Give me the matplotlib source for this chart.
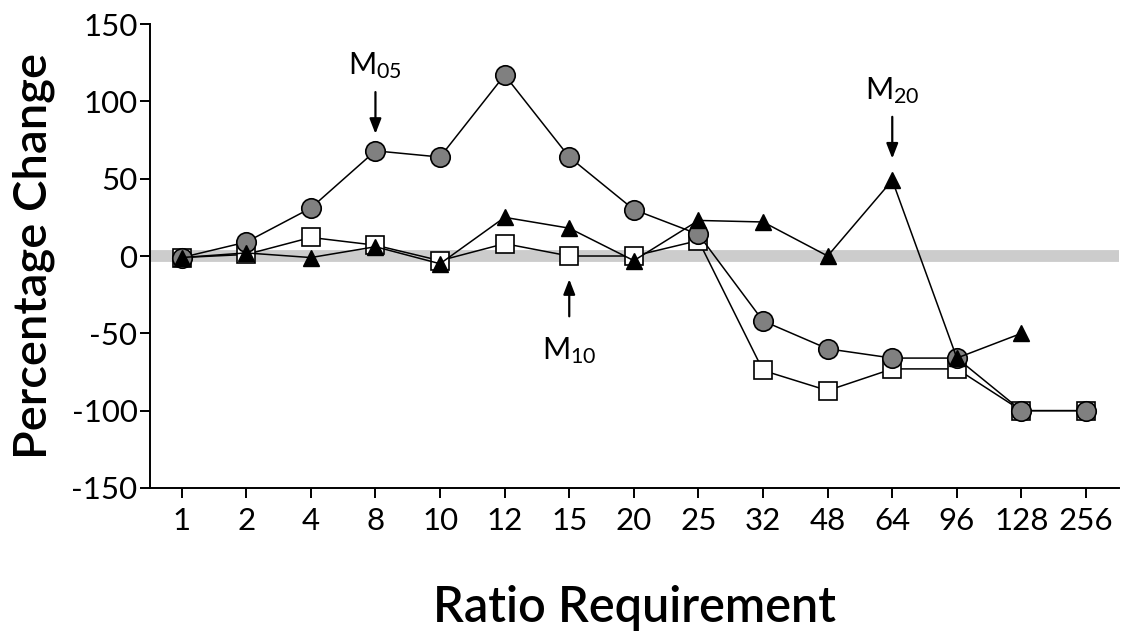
import numpy as np
import matplotlib
matplotlib.use('agg')
import matplotlib.pyplot as plt

plt.rcParams['font.family'] = ['Lato', 'DejaVu Sans']
plt.rcParams['mathtext.fontset'] = 'custom'
plt.rcParams['mathtext.rm'] = 'Lato'
plt.rcParams['mathtext.default'] = 'regular'
plt.rcParams['axes.unicode_minus'] = False

# data
ratios = ["1", "2", "4", "8", "10", "12", "15", "20", "25", "32", "48", "64", "96", "128", "256"]
circles = [-1, 9, 31, 68, 64, 117, 64, 30, 14, -42, -60, -66, -66, -100, -100]
squares = [-1, 1, 12, 7, -3, 8, 0, 0, 10, -74, -87, -73, -73, -100, -100]
triangles = [-1, 2, -1, 6, -5, 25, 18, -3, 23, 22, 0, 49, -66, -50, np.nan]

# annotations: (label, x index, text y, arrow tail y, arrow tip y)
notes = [
    ("M$_{05}$", 3, 123, 106, 79),
    ("M$_{10}$", 6, -61, -39, -15),
    ("M$_{20}$", 11, 107, 90, 63),
]


def main():
    x = np.arange(len(ratios))
    fig = plt.figure(figsize=(11.26, 6.34), dpi=100)
    ax = fig.add_axes([0.1332, 0.2303, 0.8606, 0.7318])

    ax.axhline(0, color="#cccccc", lw=8.5, zorder=1)

    ax.plot(x, squares, color="black", lw=1.1, marker="s", ms=13.5,
            mfc="white", mec="black", mew=1.2, zorder=3)
    ax.plot(x, circles, color="black", lw=1.1, marker="o", ms=14,
            mfc="#808080", mec="black", mew=1.2, zorder=4)
    ax.plot(x, triangles, color="black", lw=1.1, marker="^", ms=12,
            mfc="black", mec="black", mew=1, zorder=5)

    for label, xi, ty, y0, y1 in notes:
        ax.text(xi, ty, label, ha="center", va="center", fontsize=22)
        ax.annotate("", xy=(xi, y1), xytext=(xi, y0),
                    arrowprops=dict(arrowstyle="-|>,head_length=0.9,head_width=0.35",
                                    color="black", lw=1.6, shrinkA=0, shrinkB=0))

    ax.set_xlim(-0.49, 14.51)
    ax.set_ylim(-150, 150)
    ax.set_yticks([-150, -100, -50, 0, 50, 100, 150])
    ax.set_xticks(x)
    ax.set_xticklabels(ratios)

    for s in ["top", "right"]:
        ax.spines[s].set_visible(False)
    for s in ["left", "bottom"]:
        ax.spines[s].set_linewidth(1.4)
    ax.tick_params(direction="out", length=7, width=1.4, labelsize=22.5)
    ax.tick_params(axis="x", pad=7)
    ax.tick_params(axis="y", pad=2)

    ax.set_ylabel("Percentage Change", fontsize=34, fontweight="semibold", labelpad=12)
    ax.set_xlabel("Ratio Requirement", fontsize=35, fontweight="semibold", labelpad=36)

    fig.savefig("out.png", dpi=100)


if __name__ == "__main__":
    main()
